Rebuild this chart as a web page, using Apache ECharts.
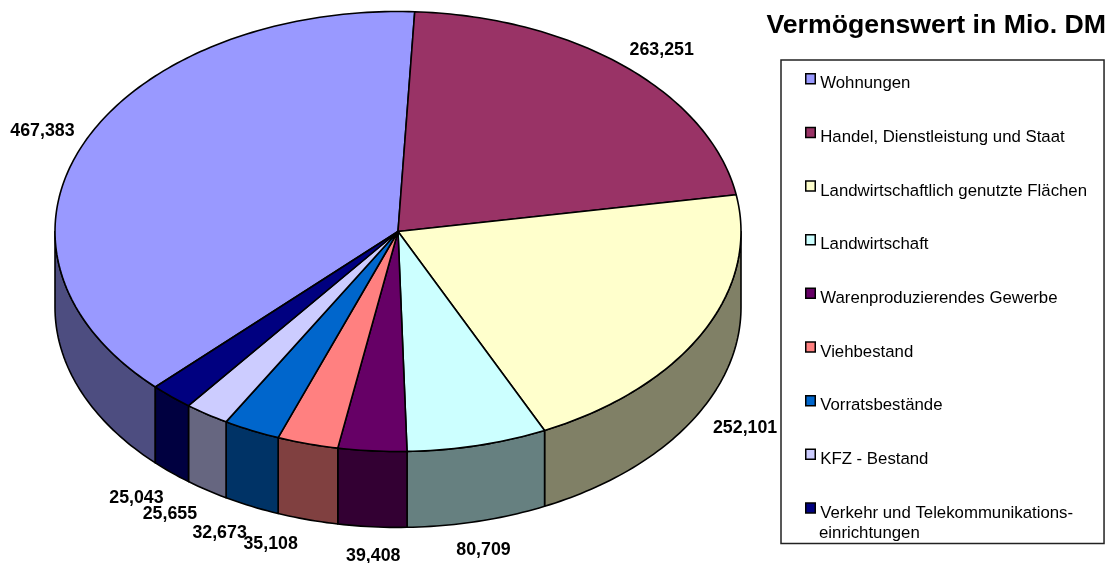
<!DOCTYPE html>
<html>
<head>
<meta charset="utf-8">
<style>html,body{margin:0;padding:0;background:#fff}#c{width:1112px;height:563px}</style>
<script src="https://cdn.jsdelivr.net/npm/echarts@6/dist/echarts.min.js"></script>
</head>
<body>
<div id="c"></div>
<script>
const categories = ['Wohnungen','Handel, Dienstleistung und Staat','Landwirtschaftlich genutzte Flächen','Landwirtschaft','Warenproduzierendes Gewerbe','Viehbestand','Vorratsbestände','KFZ - Bestand','Verkehr und Telekommunikations-einrichtungen'];
const values = [467383,263251,252101,80709,39408,35108,32673,25655,25043];
const valueLabels = ['467,383','263,251','252,101','80,709','39,408','35,108','32,673','25,655','25,043'];
const topColors = ['#9999FF','#993366','#FFFFCC','#CCFFFF','#660066','#FF8080','#0066CC','#CCCCFF','#000080'];
const wallColors = ['#4D4D80','#4D1A33','#808066','#668080','#330033','#804040','#003366','#666680','#000040'];
const labelOffsets = [[-42,-11.5],[36,-16.5],[43,94.5],[6,104.5],[1,105],[-37,100.5],[-32,102.5],[-37,99.5],[-35,101]];
const firstSliceStartDeg = 225.03;
const wallDepth = 0.345;

const total = values.reduce((a,b)=>a+b,0);
const font = '"Liberation Sans", Arial, sans-serif';
let cursor = firstSliceStartDeg;

function arc(api, a, b, drop) {
  const pts = [];
  const n = Math.max(2, Math.ceil(Math.abs(b-a)));
  for (let i = 0; i <= n; i++) {
    const t = (a + (b-a)*i/n) * Math.PI/180;
    pts.push(api.coord([Math.sin(t), Math.cos(t) - drop]));
  }
  return pts;
}

const series = categories.map((name,i)=>{
  const start = cursor;
  const end = cursor + values[i]/total*360;
  cursor = end;
  return {
    name, type:'custom', coordinateSystem:'cartesian2d', clip:false, silent:true, animation:false,
    itemStyle:{color:topColors[i]},
    data:[[start,end]],
    renderItem(params, api){
      const a = api.value(0), b = api.value(1);
      const children = [];
      const stroke = {stroke:'#000', lineWidth:1.6, lineJoin:'round'};
      // front wall: only the part of the rim facing the viewer (90..270 deg)
      for (const shift of [0,360]) {
        const wa = Math.max(a, 90+shift), wb = Math.min(b, 270+shift);
        if (wb > wa) {
          const upper = arc(api, wa, wb, 0), lower = arc(api, wa, wb, wallDepth).reverse();
          children.push({type:'polygon', shape:{points:upper.concat(lower)}, style:{fill:wallColors[i], ...stroke}});
        }
      }
      const centre = api.coord([0,0]);
      children.push({type:'polygon', shape:{points:[centre].concat(arc(api,a,b,0))}, style:{fill:topColors[i], ...stroke}});
      const mid = arc(api,(a+b)/2,(a+b)/2+1,0)[0];
      children.push({type:'text', style:{
        text:valueLabels[i], x:mid[0]+labelOffsets[i][0], y:mid[1]+labelOffsets[i][1],
        align:'center', verticalAlign:'middle', fontFamily:font, fontWeight:'bold', fontSize:17.8, fill:'#000'
      }});
      return {type:'group', children};
    }
  };
});

const chart = echarts.init(document.getElementById('c'), null, {renderer:'canvas'});
chart.setOption({
  animation:false,
  backgroundColor:'#fff',
  title:{text:'Vermögenswert in Mio. DM', right:6, top:12, padding:0,
    textStyle:{fontFamily:font, fontWeight:'bold', fontSize:26.7, color:'#000'}},
  grid:{left:55, top:11.5, width:686, height:440},
  xAxis:{type:'value', min:-1, max:1, show:false},
  yAxis:{type:'value', min:-1, max:1, show:false},
  legend:{
    orient:'vertical', left:781, top:60, height:483, data:categories, selectedMode:false,
    borderColor:'#222', borderWidth:1.5, backgroundColor:'#fff',
    padding:[13,17,22,24],
    itemWidth:9.5, itemHeight:10, itemGap:34.4, icon:'rect', align:'left',
    itemStyle:{borderColor:'#000', borderWidth:1.5},
    textStyle:{fontFamily:font, fontSize:16.8, color:'#000',
      rich:{t:{fontFamily:font, fontSize:16.8, color:'#000', padding:[10,0,0,0]}}},
    formatter:n=>'{t|'+n.replace('Telekommunikations-einrichtungen','Telekommunikations-')+'}'
  },
  graphic:[{type:'text', left:819, top:525, z:10, style:{text:'einrichtungen', fontFamily:font, fontSize:16.8, fill:'#000'}}],
  series
});
</script>
</body>
</html>
